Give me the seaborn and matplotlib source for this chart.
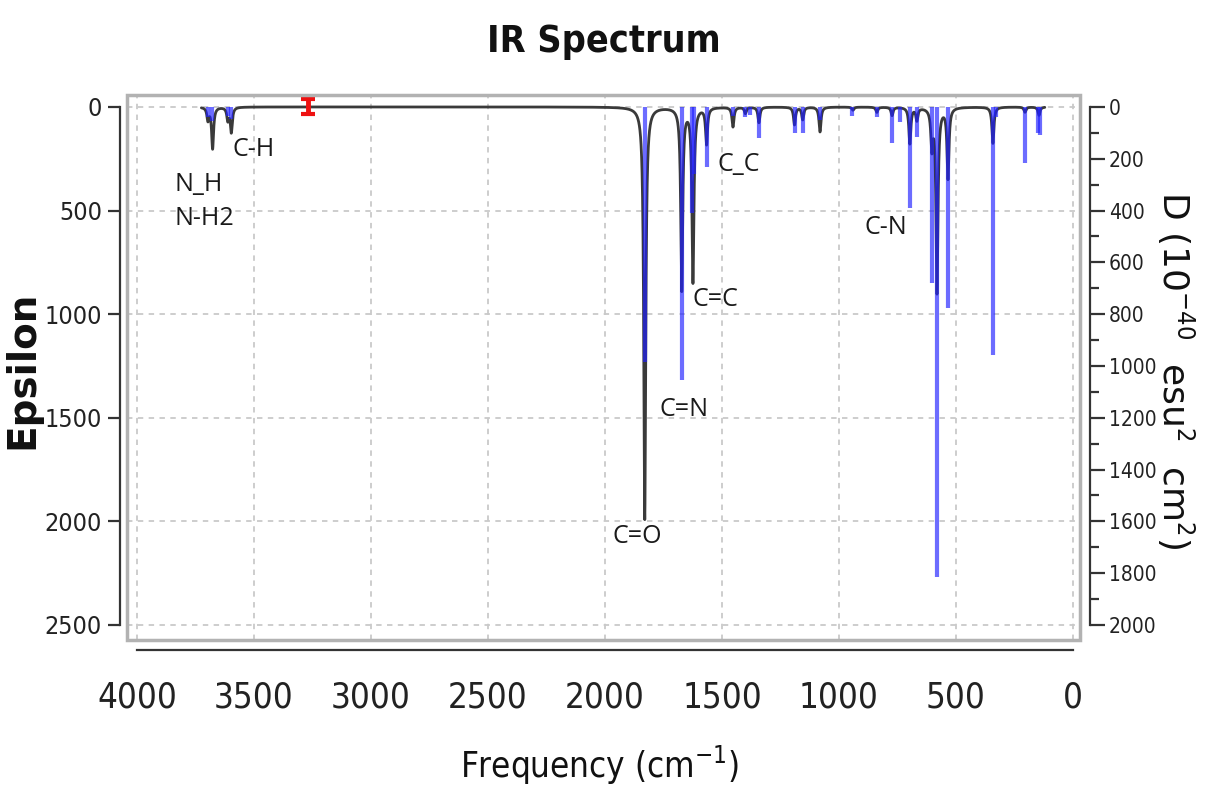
import numpy as np
import pandas as pd
import matplotlib
matplotlib.use("Agg")
import matplotlib.pyplot as plt
from matplotlib.ticker import MultipleLocator
from matplotlib.patches import Rectangle
import seaborn as sns

# Broadened spectrum: band centres (cm-1) and peak molar absorptivity
band_freq = [3697, 3677, 3612, 3597, 1830, 1672, 1624, 1566, 1453, 1400,
             1342, 1190, 1155, 1081, 940, 838, 773, 697, 667, 603,
             581, 534, 342, 205, 145]
band_eps = [60, 200, 60, 120, 1990, 880, 840, 175, 95, 30,
            75, 85, 60, 120, 15, 25, 40, 175, 60, 180,
            890, 340, 175, 25, 40]

# Computed normal modes: frequency (cm-1) and dipole strength D
stick_freq = [3697, 3680, 3612, 3597, 1830, 1672, 1630, 1618, 1566, 1453,
              1402, 1380, 1342, 1188, 1154, 1081, 944, 838, 773, 739,
              697, 667, 603, 581, 534, 342, 330, 205, 150, 140]
stick_D = [40, 55, 35, 45, 985, 1054, 410, 260, 232, 35,
           40, 30, 120, 100, 100, 50, 35, 40, 139, 60,
           390, 116, 680, 1815, 776, 958, 40, 216, 100, 108]

# Band assignments: label, frequency, epsilon position
label_text = ["C-H", "N_H", "N-H2", "C_C", "C-N", "C=C", "C=N", "C=O"]
label_freq = [3594, 3838, 3838, 1517, 889, 1628, 1765, 1966]
label_eps = [207, 376, 536, 280, 584, 931, 1462, 2075]

cursor_freq = 3270

HWHM = 5.0
grid_f = np.arange(3725.0, 120.0, -0.25)
eps = np.zeros_like(grid_f)
for f0, h in zip(band_freq, band_eps):
    eps += h * HWHM**2 / ((grid_f - f0) ** 2 + HWHM**2)
spec = pd.DataFrame({"Frequency": grid_f, "Epsilon": eps})

sns.set_theme(style="white")
plt.rcParams["font.family"] = ["DejaVu Sans"]
plt.rcParams["font.stretch"] = "condensed"
WIDE = ["DejaVu Sans"]

fig = plt.figure(figsize=(12.08, 7.91), dpi=100)
ax = fig.add_axes([0.1051, 0.191, 0.7889, 0.689])

ax.set_xlim(4043, -30)
ax.set_ylim(2572, -58)

ax.grid(True, which="major", color="#c9c9c9", linestyle=(0, (3, 3)), linewidth=1.3)

sns.lineplot(data=spec, x="Frequency", y="Epsilon", ax=ax, color="#3a3a3a",
             linewidth=2.0, estimator=None, sort=False, zorder=3)

ax.errorbar([cursor_freq], [0], yerr=[[40], [35]], color="#ee1111",
            elinewidth=3.5, capsize=5, capthick=3, fmt="none", zorder=5)

# frame around the plotting area
ax.add_patch(Rectangle((0, 0), 1, 1, transform=ax.transAxes, fill=False,
                       edgecolor="#b2b2b2", linewidth=2.5, clip_on=False, zorder=6))

for side in ("top", "right"):
    ax.spines[side].set_visible(False)
ax.spines["left"].set_position(("outward", 5))
ax.spines["left"].set_bounds(0, 2500)
ax.spines["bottom"].set_position(("outward", 7.2))
ax.spines["bottom"].set_bounds(0, 4000)
for side in ("left", "bottom"):
    ax.spines[side].set_color("#333333")
    ax.spines[side].set_linewidth(1.6)

ax.set_xticks(np.arange(0, 4001, 500))
ax.xaxis.set_minor_locator(MultipleLocator(50))
ax.set_yticks(np.arange(0, 2501, 500))
ax.tick_params(axis="x", which="major", direction="out", length=16, width=1.6,
               pad=6, labelsize=25, colors="#333333", labelcolor="#222222")
ax.tick_params(axis="x", which="minor", direction="out", length=8.5, width=2.0,
               colors="#333333")
ax.tick_params(axis="y", which="major", direction="out", length=9, width=1.6,
               pad=4, labelsize=18, colors="#333333", labelcolor="#222222")

ax.set_xlabel("Frequency (cm$^{-1}$)", fontsize=25, color="#111111")
ax.xaxis.set_label_coords(0.496, -0.19)
ax.set_ylabel("Epsilon", fontsize=28, fontweight="bold", color="#111111",
              family=WIDE, fontstretch="normal")
ax.yaxis.set_label_coords(-0.09, 0.495)

# dipole strength sticks on the right-hand scale
ax2 = ax.twinx()
ax2.set_ylim(2572 * 0.8, -58 * 0.8)
ax2.vlines(stick_freq, 0, stick_D, color="#2020ff", alpha=0.66, linewidth=3.0, zorder=4)
for side in ("top", "left", "bottom"):
    ax2.spines[side].set_visible(False)
ax2.spines["right"].set_position(("outward", 7.2))
ax2.spines["right"].set_bounds(0, 2000)
ax2.spines["right"].set_color("#333333")
ax2.spines["right"].set_linewidth(1.6)
ax2.set_yticks(np.arange(0, 2001, 200))
ax2.yaxis.set_minor_locator(MultipleLocator(100))
ax2.tick_params(axis="y", which="major", direction="out", length=10.5, width=1.6,
                pad=3, labelsize=15, colors="#333333", labelcolor="#222222")
ax2.tick_params(axis="y", which="minor", direction="out", length=6.5, width=1.6,
                colors="#333333")
ax2.set_ylabel("D (10$^{-40}$  esu$^2$  cm$^2$)", fontsize=26, rotation=-90,
               color="#111111", family=WIDE, fontstretch="normal")
ax2.yaxis.set_label_coords(1.122, 0.495)
ax2.grid(False)

for txt, f, e in zip(label_text, label_freq, label_eps):
    ax.text(f, e, txt, fontsize=18, ha="left", va="center", color="#1a1a1a",
            family=["Open Sans", "DejaVu Sans"], fontstretch="normal", zorder=7)

fig.suptitle("IR Spectrum", x=0.5, y=0.947, va="center", fontsize=27,
             fontweight="bold", color="#111111")

fig.savefig("out.png", dpi=100, facecolor="white")
